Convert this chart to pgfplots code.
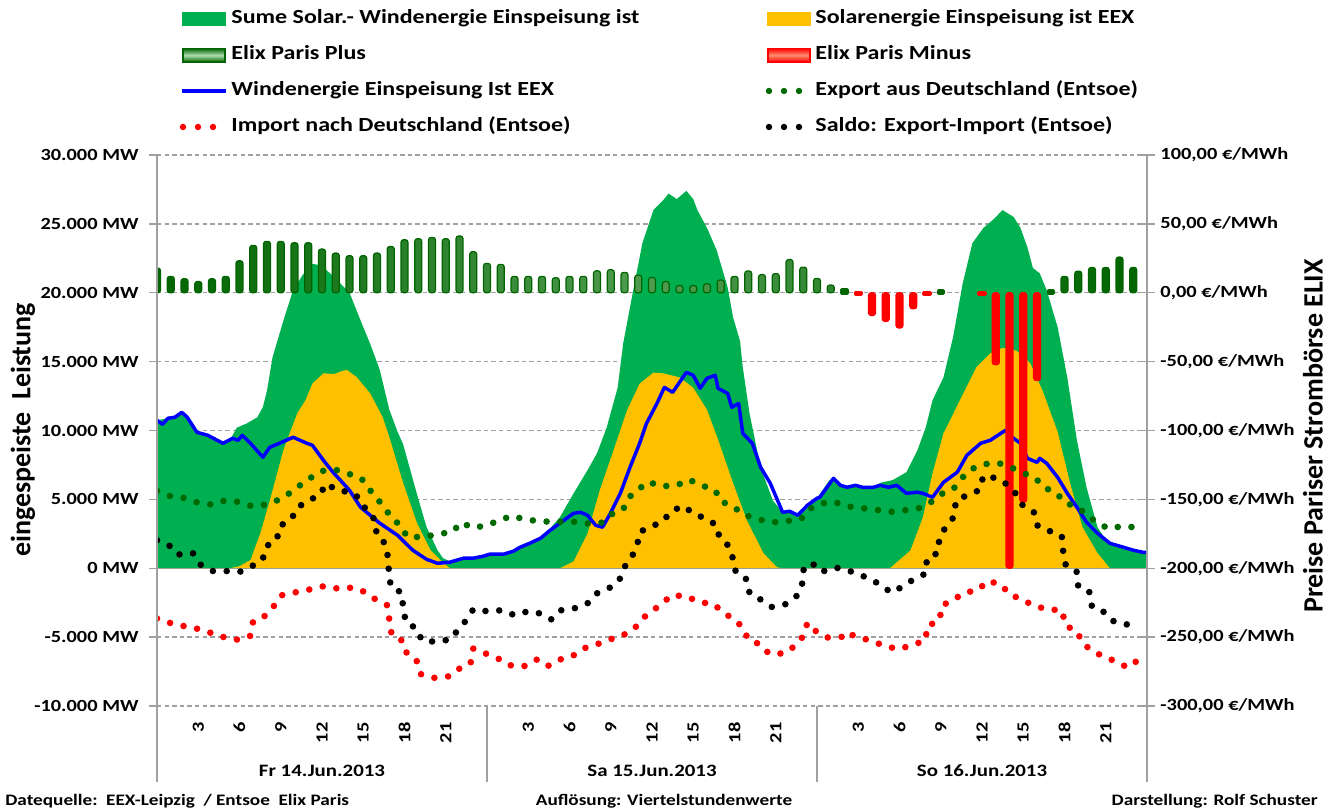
\documentclass[border=0pt]{standalone}
\usepackage{fontspec}
\setmainfont{Carlito}[FakeStretch=1.2]
\newfontfamily\rotfont{Carlito}
\usepackage{pgfplots}
\pgfplotsset{compat=1.18}
\usepackage{pgfplotstable}
\definecolor{sumgreen}{RGB}{0,176,80}
\definecolor{solaryellow}{RGB}{255,192,0}
\definecolor{elixgreen}{RGB}{0,100,0}
\definecolor{elixmid}{RGB}{80,155,80}
\definecolor{elixlight}{RGB}{175,220,175}
\definecolor{expgreen}{RGB}{0,105,0}
\definecolor{gridgray}{RGB}{160,160,160}
\definecolor{windblue}{RGB}{0,0,255}
\definecolor{redlight}{RGB}{255,140,110}
\newcommand{\fs}[1]{\fontsize{#1}{#1}\selectfont}

\pgfplotstableread{
h mw
0 10740
0.8 10890
1.3 10960
1.8 11320
2.2 10960
2.9 9870
3.7 9650
4.8 9070
5.3 9300
5.8 10200
6.5 10500
7.3 10960
7.7 11700
8.0 12900
8.4 15300
9.2 18000
9.9 20200
10.6 21300
11.3 22100
11.9 22000
12.6 21400
13.3 20700
14.0 20000
14.8 18000
15.5 16300
16.2 14400
16.9 11500
17.5 9900
17.9 9000
18.9 5400
19.6 3000
20.4 1310
20.8 730
21.3 500
22.3 730
23.0 730
23.7 870
24.2 1020
25.2 1020
25.9 1230
27.1 1810
27.9 2300
28.6 2900
29.3 3700
30.3 5440
31.3 7100
32.0 8350
32.7 10200
33.5 13100
33.9 16300
34.6 20000
35.3 23600
36.1 26000
36.8 26700
37.2 27200
37.8 26800
38.5 27400
39.0 26800
39.3 26000
40.0 24700
40.7 23100
41.5 20400
41.9 18200
42.4 16500
42.6 14600
43.1 11200
43.9 7300
44.8 4900
45.5 4060
46.0 4140
46.6 3850
47.3 4570
48.0 5080
48.9 6390
49.2 6530
49.7 6020
50.2 5880
50.8 6020
51.3 5880
52.1 5880
52.6 6200
53.5 6400
54.5 6970
55.3 8560
55.9 10200
56.4 12190
57.2 13860
57.9 16800
58.6 20700
59.3 23600
60.1 24700
60.8 25300
61.5 26000
62.3 25500
62.8 24700
63.3 23300
63.7 21800
64.2 21400
64.7 20200
65.5 17500
66.2 13860
66.9 9300
67.6 5880
68.4 2980
69.1 1900
70.3 1520
71.0 1310
71.7 1160
72 1160
}\sumtable

\pgfplotstableread{
h mw
0 0
5.3 0
6.0 150
6.8 600
7.5 2500
8.2 4900
9.2 8600
10.2 11250
10.8 12200
11.3 13400
12.1 14150
12.9 14100
13.4 14300
13.8 14400
14.5 13900
15.5 12700
16.4 11000
16.9 9500
17.9 6200
18.9 3300
19.9 1300
20.8 400
21.3 0
29.3 0
30.3 500
31.3 2500
32.2 5660
33.2 8560
34.2 11500
35.1 13400
36.1 14200
36.8 14150
38.0 13860
39.0 13100
40.0 11500
40.9 9070
41.9 6170
42.9 3480
44.1 1090
45.1 70
45.5 0
53.3 0
54.8 1300
55.7 3700
56.4 6900
57.2 9800
58.2 11800
58.6 12600
59.6 14600
60.6 15600
61.5 16000
62.5 15800
63.5 14900
64.4 12900
65.5 9900
66.4 6200
67.3 3000
68.4 1100
69.3 0
72 0
}\solartable

\pgfplotstableread{
h mw
0 10740
0.4 10450
0.8 10890
1.3 10960
1.8 11320
2.2 10960
2.9 9870
3.7 9650
4.8 9070
5.5 9430
5.9 9290
6.2 9650
6.8 9070
7.7 8060
8.2 8780
8.9 9070
9.9 9510
10.9 9070
11.3 8930
12.1 7840
12.8 6970
14.0 5660
14.8 4430
16.2 3270
17.5 2390
18.6 1310
19.6 650
20.4 360
21.3 440
22.3 730
23.0 730
23.7 870
24.2 1020
25.2 1020
25.9 1230
26.4 1520
27.1 1810
27.9 2180
28.6 2760
29.3 3270
30.3 3990
30.8 4060
31.3 3850
31.9 3120
32.4 2980
32.9 3850
33.7 5440
34.4 7330
35.1 9070
35.6 10520
36.1 11470
36.4 12050
36.9 13130
37.5 12770
38.5 14220
39.0 14010
39.5 13060
40.0 13790
40.6 14010
40.8 13060
41.5 12700
41.8 11680
42.3 11970
42.6 9800
43.3 9070
43.9 7330
44.6 6170
45.5 4060
46.0 4140
46.6 3850
47.3 4570
48.0 5080
48.2 5150
49.2 6530
49.7 6020
50.2 5880
50.8 6020
51.3 5880
52.1 5880
52.6 6020
53.2 5880
53.8 6020
54.5 5440
55.3 5520
55.7 5440
56.4 5150
57.2 6240
58.2 6970
58.9 8200
59.9 9070
60.6 9290
61.7 10010
62.0 9650
62.8 9070
63.3 7980
64.0 7690
64.2 7980
64.7 7620
65.5 6600
66.2 5440
66.9 4430
67.6 3340
68.4 2540
69.3 1810
70.3 1520
71.0 1310
71.7 1160
72 1160
}\windtable

\pgfplotstableread{
h mw
0 5610
1.0 5220
2.0 5100
2.96 4770
4.0 4620
4.97 4930
5.94 4810
6.93 4500
7.93 4620
8.88 4980
9.67 5470
10.4 6020
11.2 6580
12.0 7060
12.95 7160
13.9 6870
14.86 6530
15.4 5780
16.0 5060
16.5 4450
17.1 3610
17.7 3120
18.2 2270
19.4 2270
20.4 2470
21.5 2640
22.1 3320
23.0 2930
24.0 3120
24.9 3480
25.8 3800
26.8 3530
27.9 3410
29.0 3360
30.1 3410
31.2 3240
32.3 3290
33.0 3900
33.9 4260
34.3 5130
35.0 5710
35.7 6270
36.7 5950
37.8 6020
38.7 6430
39.6 6020
40.6 5660
41.0 4860
41.9 4500
42.6 3900
43.6 3610
44.6 3320
45.6 3410
46.8 3530
47.4 4260
48.2 4700
49.3 4810
50.0 4520
51.1 4380
52.2 4260
53.3 4090
54.4 4210
55.5 4380
56.3 4810
57.0 5370
57.9 5730
58.5 6510
59.2 7180
60.1 7550
61.2 7640
62.2 7280
63.0 6920
63.9 6530
64.5 5860
65.4 5490
66.0 4770
66.9 4450
67.6 3920
68.3 3340
69.2 2880
70.2 3050
71.4 2950
}\exporttable

\pgfplotstableread{
h mw
0 -3650
0.95 -3970
1.91 -4190
2.88 -4380
3.85 -4670
4.82 -4990
5.79 -5180
6.76 -4940
7.0 -3830
7.85 -3460
8.45 -2810
9.07 -1960
10.0 -1760
11.1 -1540
12.1 -1310
13.2 -1480
14.3 -1400
15.2 -1760
15.9 -2270
16.75 -2690
16.9 -3770
17.07 -4860
17.87 -5280
18.2 -6270
18.9 -6750
19.2 -7690
20.2 -7960
21.3 -7840
22.0 -7280
22.8 -6920
23.0 -5830
23.9 -6190
24.8 -6550
25.6 -7040
26.7 -7110
27.6 -6630
28.4 -7110
29.3 -6630
30.2 -6390
31.0 -5830
32.0 -5520
32.9 -5180
33.9 -4860
34.7 -4400
35.3 -3650
36.0 -3100
36.7 -2610
37.4 -1960
38.5 -2030
39.4 -2450
40.5 -2610
41.2 -3240
42.0 -3720
42.6 -4300
43.0 -5180
43.9 -5540
44.5 -6190
45.6 -6190
46.4 -5640
47.0 -4930
47.3 -3970
47.9 -4550
48.7 -5030
49.8 -4980
50.0 -4670
51.0 -4980
52.0 -5300
52.95 -5640
53.9 -5880
54.9 -5590
55.9 -5230
56.0 -4190
56.9 -3820
57.1 -2690
57.9 -2320
58.7 -1770
59.7 -1600
60.4 -920
61.4 -1180
62.0 -1910
62.9 -2250
63.7 -2690
64.7 -2980
65.8 -3050
66.1 -4190
66.9 -4550
67.3 -5420
68.0 -6000
68.8 -6390
69.7 -6750
70.6 -7210
71.4 -6630
}\importtable

\pgfplotstableread{
h mw
0 2030
0.87 1670
1.5 990
2.6 1110
3.15 270
4.0 -200
5.0 -200
6.0 -270
6.9 150
7.66 580
7.98 1620
8.7 2030
8.94 3070
9.75 3530
10.2 4380
10.97 4930
11.8 5250
12.3 6150
13.1 5660
14.2 5500
14.8 4980
15.25 4140
15.85 3530
15.98 2390
16.6 1790
16.78 890
16.87 -270
17.0 -1360
17.8 -1770
17.9 -2860
18.1 -3940
18.9 -4380
19.25 -5230
20.3 -5350
21.4 -5150
21.9 -4430
22.5 -3770
23.0 -2980
24.0 -3120
25.1 -3050
26.0 -3410
27.0 -3120
27.9 -3290
28.7 -3720
29.4 -3050
30.5 -2880
31.4 -2500
32.05 -1770
32.9 -1430
33.6 -920
33.97 50
34.5 780
34.9 1550
35.1 2640
35.9 3000
36.8 3410
37.4 4160
38.3 4520
39.0 3970
39.9 3610
40.7 3120
40.9 2230
41.6 1600
41.9 650
42.1 -310
42.9 -820
43.1 -1840
43.9 -2270
44.7 -2810
45.7 -2610
46.5 -2030
46.9 -1290
47.0 -150
47.6 410
48.3 -270
49.3 50
50.0 -70
50.9 -390
51.8 -750
52.6 -1190
53.4 -1770
54.3 -1290
55.1 -750
55.9 -390
56.0 750
56.8 1110
56.9 2230
57.4 3050
57.96 3730
58.1 4890
58.9 5300
59.8 5660
60.1 6700
61.2 6510
61.9 6020
62.5 5370
63.0 4500
63.8 4040
64.05 3070
64.9 2710
65.8 2340
65.9 1260
66.1 170
66.9 -270
67.0 -1360
67.8 -1720
68.0 -2810
68.9 -3190
69.5 -3820
70.5 -4090
71.4 -3650
}\saldotable

\pgfplotstableread{
h eur
0 17.9
1 11.9
2 10.2
3 8.2
4 10.2
5 11.9
6 23.2
7 34.4
8 37.3
9 37.3
10 36.3
11 36.3
12 31.7
13 28.8
14 26.9
15 26.9
16 28.8
17 33.6
18 38.5
19 39.2
20 40.2
21 39.2
22 41.2
23 29.8
24 21.3
25 20.6
26 11.9
27 11.9
28 11.9
29 10.9
30 11.9
31 11.9
32 15.9
33 16.7
34 14.8
35 12.8
36 11.1
37 8.1
38 5.2
39 5.2
40 6.5
41 9.3
42 11.9
43 15.8
44 13.2
45 13.9
46 24.1
47 18.6
48 10.4
49 5.6
66 11.9
67 15.7
68 18.4
69 18.4
70 25.9
71 18.4
}\elixplus

\pgfplotstableread{
h eur
50 1.7
57 1.0
65 1.0
}\elixplussmall

\pgfplotstableread{
h eur
52 -16.5
53 -20.8
54 -25.6
55 -11.6
61 -52.3
62 -200
63 -152
64 -63.7
}\elixminus

\pgfplotstableread{
h eur
51 -0.7
56 -1.0
60 -1.0
}\elixminussmall

\begin{document}
\begin{tikzpicture}[font=\bfseries]
\useasboundingbox (0,0) rectangle (668pt,406pt);
\pgfplotsset{base/.style={scale only axis, width=495pt, height=275.5pt,
  at={(78.5pt,53pt)}, anchor=south west, xmin=0, xmax=72, scaled y ticks=false}}

% ---------- main axis: areas and wind line ----------
\begin{axis}[base,
  ymin=-10000, ymax=30000,
  ytick={-10000,-5000,0,5000,10000,15000,20000,25000,30000},
  yticklabels={{-10.000 MW},{-5.000 MW},{0 MW},{5.000 MW},{10.000 MW},{15.000 MW},{20.000 MW},{25.000 MW},{30.000 MW}},
  yticklabel style={font=\bfseries\fs{8.5}, anchor=east, inner sep=0pt, xshift=-5pt},
  ymajorgrids,
  grid style={gridgray, line width=0.7pt, dash pattern=on 2.2pt off 1.6pt},
  axis line style={draw=none},
  tick align=outside, major tick length=4pt,
  ytick style={gridgray, line width=0.7pt},
  xtick={3,6,9,12,15,18,21,27,30,33,36,39,42,45,51,54,57,60,63,66,69},
  xticklabels={3,6,9,12,15,18,21,3,6,9,12,15,18,21,3,6,9,12,15,18,21},
  xtick style={draw=none},
  xticklabel style={rotate=90, anchor=east, inner sep=0pt, inner xsep=4pt, font=\bfseries\fs{8.5}},
]
\draw[gridgray, line width=0.8pt] (axis cs:0,0) -- (axis cs:72,0);
\addplot[fill=sumgreen, draw=none] table[x=h, y=mw] {\sumtable} \closedcycle;
\addplot[fill=solaryellow, draw=none] table[x=h, y=mw] {\solartable} \closedcycle;
\addplot[windblue, line width=1.75pt, line join=round] table[x=h, y=mw] {\windtable};
\end{axis}

% ---------- price axis: Elix bars ----------
\begin{axis}[base,
  ymin=-300, ymax=100,
  axis x line=none, axis y line*=right,
  axis line style={draw=none},
  ytick={-300,-250,-200,-150,-100,-50,0,50,100},
  yticklabels={{-300,00 €/MWh},{-250,00 €/MWh},{-200,00 €/MWh},{-150,00 €/MWh},{-100,00 €/MWh},{-50,00 €/MWh},{0,00 €/MWh},{50,00 €/MWh},{100,00 €/MWh}},
  yticklabel style={font=\bfseries\fs{8.5}, anchor=west, inner sep=0pt, xshift=4pt},
  tick align=center, major tick length=5pt,
  ytick style={gridgray, line width=0.7pt},
]
\addplot[ybar, bar width=0.5, bar shift=0pt, draw=elixgreen, line width=0.6pt,
  left color=elixgreen, right color=elixgreen, middle color=elixmid, rounded corners=1.2pt]
  table[x=h, y=eur] {\elixplus};
\addplot[ybar, bar width=0.3, bar shift=0pt, draw=elixgreen, fill=elixgreen, line width=2pt, line join=round]
  table[x=h, y=eur] {\elixplussmall};
\addplot[ybar, bar width=0.5, bar shift=0pt, draw=red, line width=0.6pt, fill=red, rounded corners=1.2pt]
  table[x=h, y=eur] {\elixminus};
\addplot[ybar, bar width=0.35, bar shift=0pt, draw=red, fill=red, line width=2.2pt, line join=round]
  table[x=h, y=eur] {\elixminussmall};
\end{axis}

% ---------- dotted exchange series ----------
\begin{axis}[base, ymin=-10000, ymax=30000, hide axis]
\addplot[expgreen, line width=3.3pt, line cap=round, dash pattern=on 0pt off 6.9pt] table[x=h, y=mw] {\exporttable};
\addplot[red, line width=3.3pt, line cap=round, dash pattern=on 0pt off 6.9pt] table[x=h, y=mw] {\importtable};
\addplot[black, line width=3.3pt, line cap=round, dash pattern=on 0pt off 6.9pt] table[x=h, y=mw] {\saldotable};
\end{axis}

% ---------- frame lines ----------
\draw[gridgray, line width=0.8pt] (78.5pt,328.5pt) -- (78.5pt,15pt);
\draw[gridgray, line width=0.8pt] (573.5pt,328.5pt) -- (573.5pt,15pt);
\draw[gridgray, line width=0.8pt] (243.5pt,53pt) -- (243.5pt,15pt);
\draw[gridgray, line width=0.8pt] (408.5pt,53pt) -- (408.5pt,15pt);

% ---------- day labels ----------
\node[font=\bfseries\fs{8.7}, inner sep=0pt] at (161pt,20.5pt) {Fr 14.Jun.2013};
\node[font=\bfseries\fs{8.7}, inner sep=0pt] at (326pt,20.5pt) {Sa 15.Jun.2013};
\node[font=\bfseries\fs{8.7}, inner sep=0pt] at (491pt,20.5pt) {So 16.Jun.2013};

% ---------- footer ----------
\node[font=\bfseries\fs{8}, inner sep=0pt, anchor=mid west] at (2.5pt,5.5pt) {Datequelle:\ \ EEX-Leipzig\ \ / Entsoe\ \ Elix Paris};
\node[font=\bfseries\fs{8}, inner sep=0pt, anchor=mid] at (332pt,5.5pt) {Auflösung: Viertelstundenwerte};
\node[font=\bfseries\fs{8}, inner sep=0pt, anchor=mid east] at (659pt,5.5pt) {Darstellung: Rolf Schuster};

% ---------- axis titles ----------
\node[rotate=90, font=\rotfont\bfseries\fs{14}, inner sep=0pt] at (11.5pt,191pt) {eingespeiste\ \ Leistung};
\node[rotate=90, font=\rotfont\bfseries\fs{14}, inner sep=0pt] at (656.5pt,188pt) {Preise Pariser Strombörse ELIX};

% ---------- legend ----------
\fill[sumgreen] (91pt,393.2pt) rectangle (113pt,399.8pt);
\node[font=\bfseries\fs{10}, inner sep=0pt, anchor=mid west] at (115.5pt,396.5pt) {Sume Solar.- Windenergie Einspeisung ist};
\fill[solaryellow] (383.5pt,393.2pt) rectangle (405.5pt,399.8pt);
\node[font=\bfseries\fs{10}, inner sep=0pt, anchor=mid west] at (407.5pt,396.5pt) {Solarenergie Einspeisung ist EEX};

\draw[elixgreen, line width=0.8pt, top color=elixgreen, bottom color=elixgreen, middle color=elixlight] (91.4pt,375pt) rectangle (112.6pt,381.8pt);
\node[font=\bfseries\fs{10}, inner sep=0pt, anchor=mid west] at (115.5pt,378.5pt) {Elix Paris Plus};
\draw[red, line width=0.8pt, top color=red, bottom color=red, middle color=redlight] (383.9pt,375pt) rectangle (405.1pt,381.8pt);
\node[font=\bfseries\fs{10}, inner sep=0pt, anchor=mid west] at (407.5pt,378.5pt) {Elix Paris Minus};

\draw[windblue, line width=1.6pt] (91pt,360.5pt) -- (113pt,360.5pt);
\node[font=\bfseries\fs{10}, inner sep=0pt, anchor=mid west] at (115.5pt,360.5pt) {Windenergie Einspeisung Ist EEX};
\foreach \xx in {384.5,392,399.5} \fill[expgreen] (\xx pt,360.5pt) circle (1.6pt);
\node[font=\bfseries\fs{10}, inner sep=0pt, anchor=mid west] at (407.5pt,360.5pt) {Export aus Deutschland (Entsoe)};

\foreach \xx in {91.5,99,106.5} \fill[red] (\xx pt,342.5pt) circle (1.6pt);
\node[font=\bfseries\fs{10}, inner sep=0pt, anchor=mid west] at (115.5pt,342.5pt) {Import nach Deutschland (Entsoe)};
\foreach \xx in {384.5,392,399.5} \fill[black] (\xx pt,342.5pt) circle (1.6pt);
\node[font=\bfseries\fs{10}, inner sep=0pt, anchor=mid west] at (407.5pt,342.5pt) {Saldo: Export-Import (Entsoe)};
\end{tikzpicture}
\end{document}
